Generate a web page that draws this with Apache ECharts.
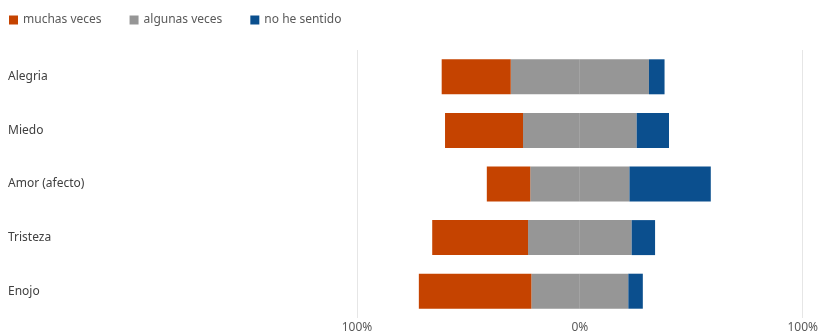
<!DOCTYPE html>
<html>
<head>
<meta charset="utf-8">
<script src="https://cdn.jsdelivr.net/npm/echarts@6/dist/echarts.min.js"></script>
<style>
  html, body { margin: 0; padding: 0; background: #fff; }
  #chart { width: 821px; height: 334px; }
</style>
</head>
<body>
<div id="chart"></div>
<script>
// ========== 数据 ==========
const emociones = ['Alegria', 'Miedo', 'Amor (afecto)', 'Tristeza', 'Enojo'];
const muchasVeces = [31, 35, 19.5, 43, 50.5];
const algunasVeces = [62, 51, 44.5, 46.5, 43.5];
const noHeSentido = [7, 14.5, 36.5, 10.5, 6.5];
const xTicks = [-100, 0, 100];

const ROJO = '#C54300', GRIS = '#969696', AZUL = '#0B4F8E';
const FONT = '"Noto Sans", "Open Sans", sans-serif';

const chart = echarts.init(document.getElementById('chart'), null, { renderer: 'canvas' });

// 中性项一分为二，围绕 0 居中
const half = algunasVeces.map(v => v / 2);
const barBase = { type: 'bar', barWidth: 35, silent: true };

chart.setOption({
  animation: false,
  backgroundColor: '#fff',
  textStyle: { fontFamily: FONT },
  legend: {
    left: 4, top: 9,
    itemWidth: 9, itemHeight: 9, itemGap: 28,
    icon: 'rect',
    textStyle: { color: '#595959', fontSize: 12, fontFamily: FONT },
    data: [
      { name: 'muchas veces', itemStyle: { color: ROJO } },
      { name: 'algunas veces', itemStyle: { color: GRIS } },
      { name: 'no he sentido', itemStyle: { color: AZUL } }
    ]
  },
  grid: { left: 357, right: 16, top: 50, bottom: 12 },
  xAxis: {
    type: 'value',
    min: xTicks[0], max: xTicks[2], interval: 100,
    axisLine: { show: false },
    axisTick: { show: false },
    splitLine: {
      show: true,
      // 0 处不画线，只保留两端
      lineStyle: { color: ['#e6e6e6', 'rgba(0,0,0,0)', '#e6e6e6'], width: 1 },
      showMinLine: true, showMaxLine: true
    },
    axisLabel: {
      color: '#595959', fontSize: 12, margin: 4, fontFamily: FONT,
      formatter: v => Math.abs(v) + '%'
    }
  },
  yAxis: {
    type: 'category',
    inverse: true,
    data: emociones,
    axisLine: { show: false },
    axisTick: { show: false },
    axisLabel: { align: 'left', margin: 349, color: '#404040', fontSize: 12, fontFamily: FONT }
  },
  series: [
    Object.assign({}, barBase, { name: 'algunas veces', stack: 'l', data: half.map(v => -v), itemStyle: { color: GRIS } }),
    Object.assign({}, barBase, { name: 'muchas veces', stack: 'l', data: muchasVeces.map(v => -v), itemStyle: { color: ROJO } }),
    Object.assign({}, barBase, { name: 'algunas veces', stack: 'l', data: half, itemStyle: { color: GRIS } }),
    Object.assign({}, barBase, { name: 'no he sentido', stack: 'l', data: noHeSentido, itemStyle: { color: AZUL } })
  ]
});
</script>
</body>
</html>
